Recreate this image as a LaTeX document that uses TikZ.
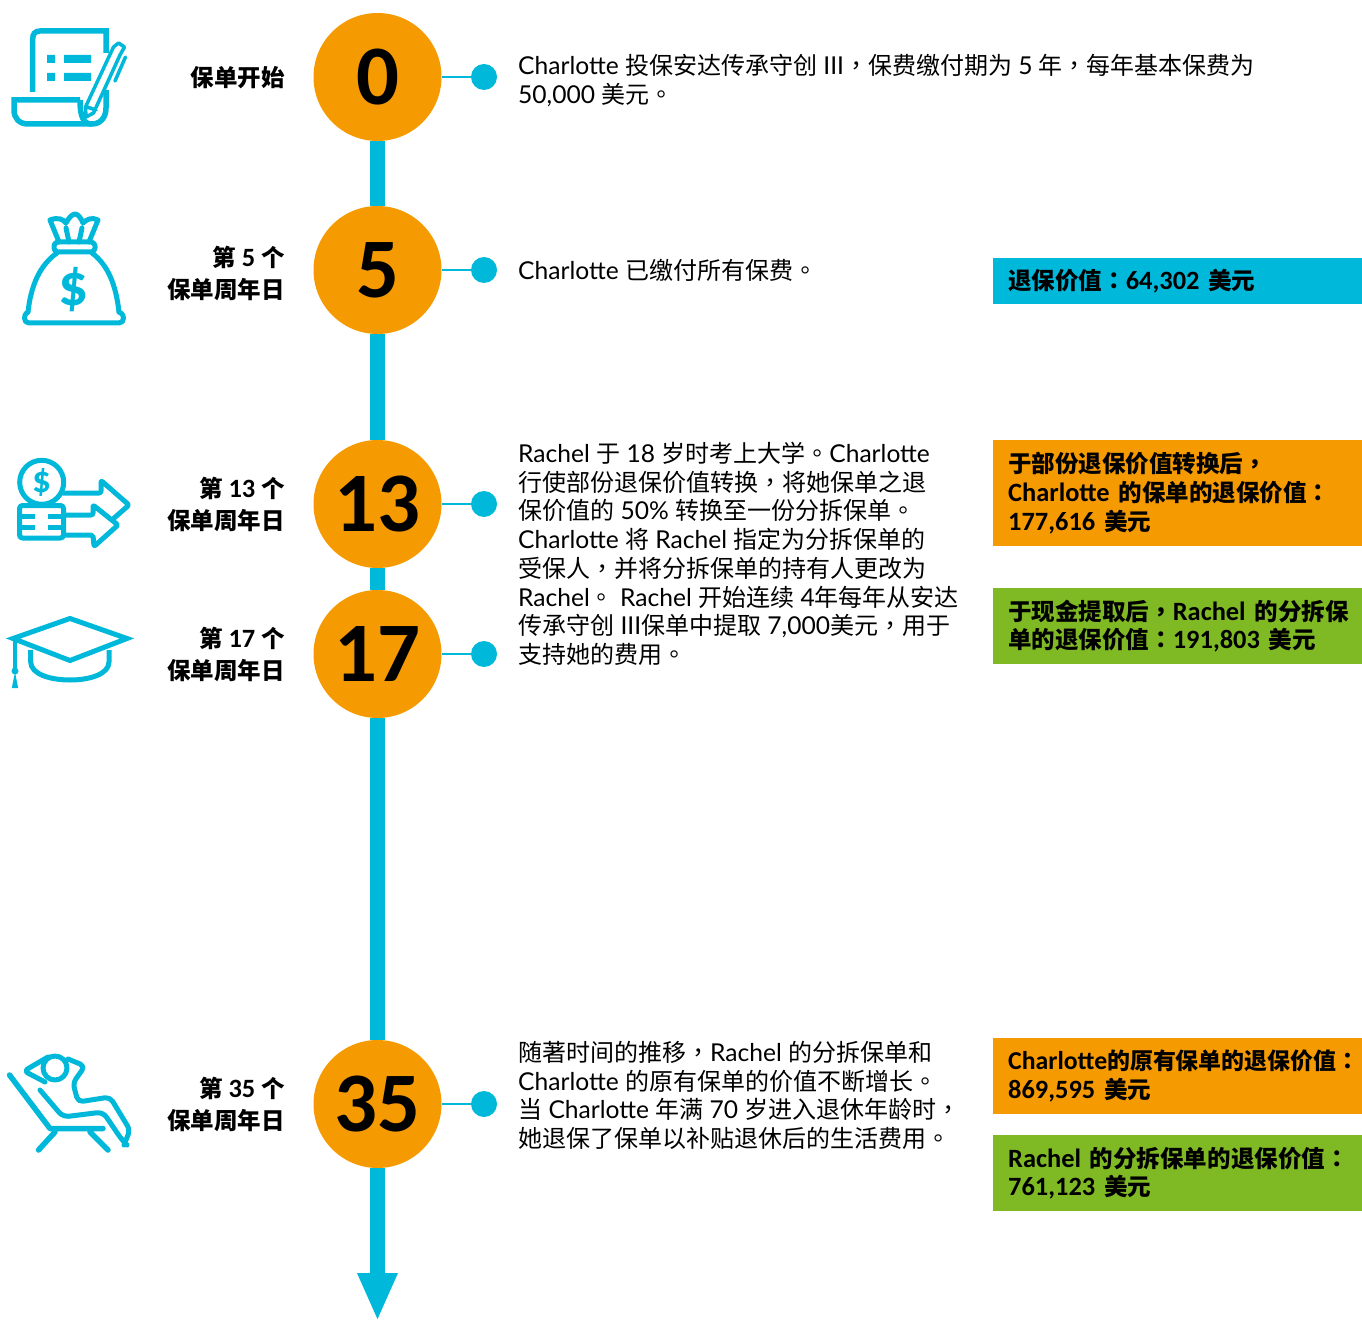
\documentclass[tikz,border=0pt]{standalone}
\usepackage{fontspec}
\setmainfont{Lato}[Scale=1.025,BoldFont={Carlito Bold},BoldFeatures={Scale=1.1}]
\newfontfamily\cjkfont{Noto Sans CJK SC}[BoldFeatures={Scale=0.98}]
\newfontfamily\cjkpunct{Noto Sans CJK TC}[BoldFeatures={Scale=0.98}]
\usetikzlibrary{arrows.meta}
\newcommand{\zh}[1]{{\cjkfont #1}}
\newcommand{\zp}[1]{{\cjkpunct #1}}
\definecolor{tealmain}{HTML}{00B8D9}
\definecolor{orangemain}{HTML}{F59A00}
\definecolor{greenmain}{HTML}{7FBA24}
\tikzset{
	stage/.style={circle,fill=orangemain,minimum size=128pt,inner sep=0pt,font=\bfseries\fontsize{77}{77}\selectfont},
	dot/.style={circle,fill=tealmain,minimum size=26pt,inner sep=0pt},
	spine/.style={draw=tealmain,line width=15.7pt},
	stem/.style={draw=tealmain,line width=2.5pt},
	yearlabel/.style={anchor=east,align=right,inner sep=0pt,font=\bfseries\fontsize{24}{32}\selectfont},
	story/.style={anchor=north west,align=left,inner sep=0pt,font=\fontsize{24}{28.7}\selectfont},
	valuebox/.style={anchor=north west,minimum width=369pt,inner xsep=15pt,inner ysep=0pt,text width=339pt,align=left,font=\bfseries\fontsize{24}{28.7}\selectfont},
	icon/.style={draw=tealmain,line width=5pt,line cap=round,line join=round},
}
\begin{document}
\begin{tikzpicture}[x=1pt,y=-1pt]
	\useasboundingbox (0,0) rectangle (1362,1321);
	\node (c0) at (377.5,77) [stage] {0};
	\node (c5) at (377.5,270) [stage] {5};
	\node (c13) at (377.5,504) [stage] {13};
	\node (c17) at (377.5,654) [stage] {17};
	\node (c35) at (377.5,1104) [stage] {35};
	\coordinate (tip) at (377.5,1321);

	\path[spine] (c0) edge (c5);
	\path[spine] (c5) edge (c13);
	\path[spine] (c13) edge (c17);
	\path[spine] (c17) edge (c35);
	\draw[spine,-{Triangle[width=37pt,length=48pt]}] (c35) -- (tip);

	\node (d0) at (484,77) [dot] {};
	\node (d5) at (484,270) [dot] {};
	\node (d13) at (484,504) [dot] {};
	\node (d17) at (484,654) [dot] {};
	\node (d35) at (484,1104) [dot] {};
	\path[stem] (c0) edge (d0);
	\path[stem] (c5) edge (d5);
	\path[stem] (c13) edge (d13);
	\path[stem] (c17) edge (d17);
	\path[stem] (c35) edge (d35);

	\node (y0) at (285,78) [yearlabel] {\zh{保单开始}};
	\node (y5) at (285,273) [yearlabel] {\zh{第} 5 \zh{个}\\\zh{保单周年日}};
	\node (y13) at (285,504) [yearlabel] {\zh{第} 13 \zh{个}\\\zh{保单周年日}};
	\node (y17) at (285,654) [yearlabel] {\zh{第} 17 \zh{个}\\\zh{保单周年日}};
	\node (y35) at (285,1104) [yearlabel] {\zh{第} 35 \zh{个}\\\zh{保单周年日}};

	\node (s0) at (518,54) [story] {Charlotte \zh{投保安达传承守创} III\zp{，}\zh{保费缴付期为} 5 \zh{年}\zp{，}\zh{每年基本保费为}\\50,000 \zh{美元}\zp{。}};
	\node (s5) at (518,259) [story] {Charlotte \zh{已缴付所有保费}\zp{。}};
	\node (s13) at (518,442) [story] {Rachel \zh{于} 18 \zh{岁时考上大学}\zp{。}Charlotte\\\zh{行使部份退保价值转换}\zp{，}\zh{将她保单之退}\\\zh{保价值的} 50\% \zh{转换至一份分拆保单}\zp{。}\\Charlotte \zh{将} Rachel \zh{指定为分拆保单的}\\\zh{受保人}\zp{，}\zh{并将分拆保单的持有人更改为}\\Rachel\zp{。} Rachel \zh{开始连续} 4\zh{年每年从安达}\\\zh{传承守创} III\zh{保单中提取} 7,000\zh{美元}\zp{，}\zh{用于}\\\zh{支持她的费用}\zp{。}};
	\node (s35) at (518,1041) [story] {\zh{随著时间的推移}\zp{，}Rachel \zh{的分拆保单和}\\Charlotte \zh{的原有保单的价值不断增长}\zp{。}\\\zh{当} Charlotte \zh{年满} 70 \zh{岁进入退休年龄时}\zp{，}\\\zh{她退保了保单以补贴退休后的生活费用}\zp{。}};

	\node (b5) at (993,258) [valuebox,fill=tealmain,minimum height=46pt] {\zh{退保价值}\zp{：}64,302 \zh{美元}};
	\node (b13) at (993,440) [valuebox,fill=orangemain,minimum height=106pt] {\zh{于部份退保价值转换后}\zp{，}\\Charlotte \zh{的保单的退保价值}\zp{：}\\177,616 \zh{美元}};
	\node (b17) at (993,588) [valuebox,fill=greenmain,minimum height=76pt] {\mbox{\zh{于现金提取后}\zp{，}Rachel \zh{的分拆保}}\\\mbox{\zh{单的退保价值}\zp{：}191,803 \zh{美元}}};
	\node (b35a) at (993,1038) [valuebox,fill=orangemain,minimum height=76pt] {\mbox{\fontsize{23.4}{28.7}\selectfont Charlotte\zh{的原有保单的退保价值}\zp{：}}\\869,595 \zh{美元}};
	\node (b35b) at (993,1135) [valuebox,fill=greenmain,minimum height=76pt] {\mbox{Rachel \zh{的分拆保单的退保价值}\zp{：}}\\761,123 \zh{美元}};

	\draw[icon,line width=5.5pt,line cap=butt,line join=miter] (32.7,92) -- (32.7,39) .. controls (32.7,34) and (35,31) .. (40,31) -- (106,31) -- (106,53);
	\draw[icon,line width=5.5pt,line cap=butt,line join=miter] (92,124) -- (28,124) .. controls (19,124) and (14,118) .. (14,110) -- (14,100) -- (80,100);
	\draw[icon,line width=5.5pt,line cap=butt] (80,100) .. controls (80,118) and (84,124) .. (92,124) .. controls (100,124) and (106,118) .. (106,108) -- (106,90);
	\fill[tealmain] (47,55) rectangle (55,63) (64,55) rectangle (91,63) (47,73) rectangle (55,81) (64,73) rectangle (91,81);
	\draw[icon,line width=3.5pt] (86,117) -- (85.5,107) -- (113.5,47) -- (118.5,43) -- (124.5,47) -- (120,55) -- (93.5,113) -- cycle (87,107) -- (96,110) (125.5,57) -- (115,81);

	\draw[icon] (28,312) .. controls (31,285) and (40,265) .. (57,253) (92,253) .. controls (108,265) and (116,285) .. (119,312);
	\draw[icon] (28,312) .. controls (25,314) and (24.5,316) .. (24.5,318) .. controls (24.5,321) and (26,323) .. (29,323) -- (119,323) .. controls (122,323) and (123.5,321) .. (123.5,318) .. controls (123.5,316) and (123,314) .. (119,312);
	\draw[icon,rounded corners=4pt] (54,242) rectangle (95,252);
	\draw[icon] (59,242) -- (50,220) .. controls (58,217) and (63,219) .. (66,223) .. controls (69,217) and (73,214) .. (75,214) .. controls (78,214) and (81,218) .. (83,223) .. controls (87,219) and (92,217) .. (98,220) -- (89,242) (66,228) -- (69,242) (82,228) -- (79,242);
	\node (bagsign) at (74,290) [text=tealmain,inner sep=0pt,font=\bfseries\fontsize{54}{54}\selectfont] {\$};

	\draw[icon] (41.7,482.3) circle (22pt);
	\node (coinsign) at (41.7,482.3) [text=tealmain,inner sep=0pt,font=\bfseries\fontsize{34}{34}\selectfont] {\$};
	\draw[icon,rounded corners=3pt] (19.5,505.5) rectangle (63.5,538);
	\draw[icon,line cap=butt] (19.5,516) -- (35,516) (48,516) -- (63.5,516) (19.5,527.5) -- (35,527.5) (48,527.5) -- (63.5,527.5);
	\draw[icon,rounded corners=2pt] (63,493) -- (101,493) -- (101,480.5) -- (129,505) -- (113,519);
	\draw[icon,rounded corners=2pt] (64,515) -- (93,515) -- (93,505) -- (118,525) -- (94,546.5) -- (93,535) -- (64,535);

	\draw[icon,line cap=butt,line join=miter] (70,618.5) -- (127,638.5) -- (70,660.5) -- (13,638.5) -- cycle;
	\draw[icon,line cap=butt] (30.7,650) -- (30.7,662) .. controls (30.7,674) and (50,680) .. (70,680) .. controls (90,680) and (109,674) .. (109,662) -- (109,650);
	\draw[icon,line width=3.5pt,line cap=butt] (15,640) -- (15,672);
	\fill[tealmain] (15,671) circle (3.5pt);
	\fill[tealmain] (15,672) -- (18.2,688) -- (11.8,688) -- cycle;

	\draw[icon,line width=5.5pt] (9.5,1075) -- (50,1128.5) -- (103,1128.5) (55,1132) -- (38.5,1150) (90,1132) -- (108,1150);
	\draw[icon] (55,1068) circle (12pt);
	\draw[icon,rounded corners=4pt] (45,1082) -- (24,1071) -- (48,1057);
	\draw[icon,rounded corners=5pt] (68,1059) -- (85,1066) -- (73,1083) -- (78,1102) -- (110,1097) -- (130,1130) -- (124,1145);
	\draw[icon,rounded corners=6pt] (40,1090) -- (63,1117) -- (103,1112) -- (122,1140) -- (127,1145);
\end{tikzpicture}
\end{document}
